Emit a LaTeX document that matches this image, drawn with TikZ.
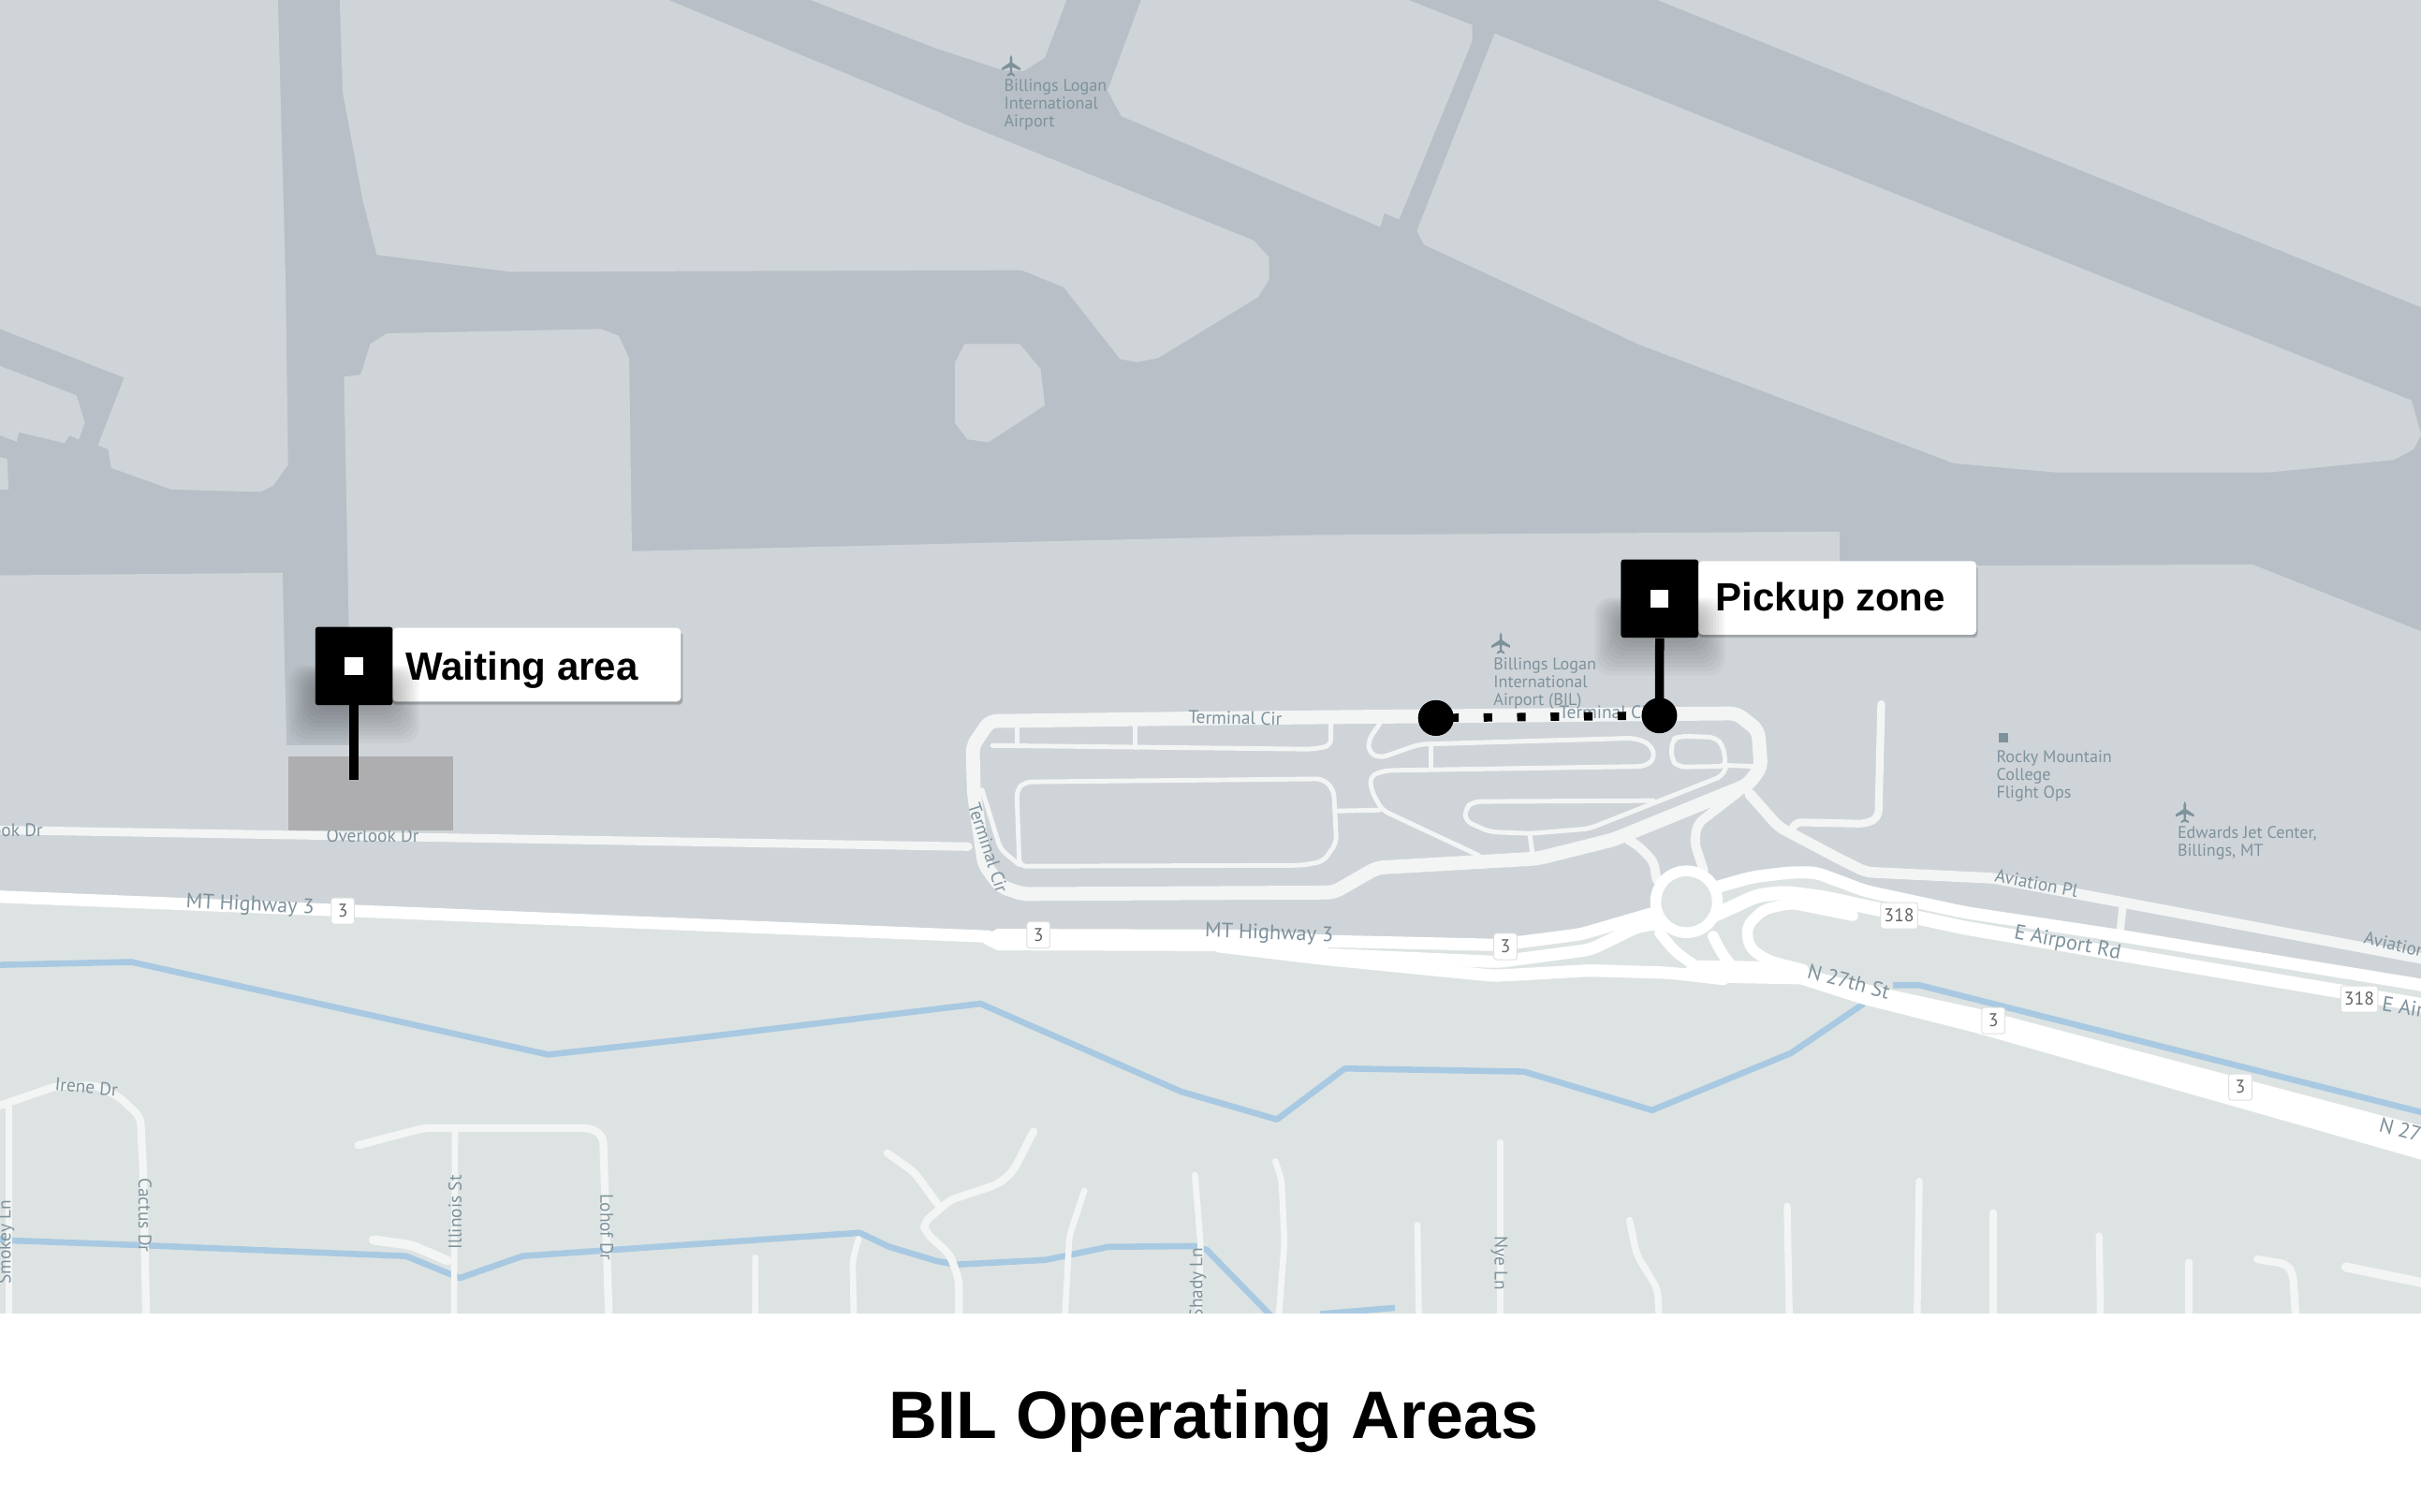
\documentclass[tikz,border=0pt]{standalone}
\usepackage{fontspec}
\setmainfont{Liberation Sans}
\newfontfamily\mapfont{PT Sans}
\usetikzlibrary{positioning}
\definecolor{landc}{HTML}{CFD4D8}
\definecolor{apronc}{HTML}{B8BFC6}
\definecolor{lowc}{HTML}{DDE3E3}
\definecolor{riverc}{HTML}{A8C9E1}
\definecolor{minorc}{HTML}{F3F5F5}
\definecolor{labc}{HTML}{7E929C}
\definecolor{zonec}{HTML}{AEAEB0}
\tikzset{
  lw/.style={line width=#1*0.5669pt},
  land/.style={fill=landc,draw=none},
  river/.style={draw=riverc,lw=4,line join=round},
  minor/.style={draw=minorc,line join=round,line cap=round,rounded corners=2.5pt,lw=#1},
  hwy/.style={draw=white,line join=round,line cap=round,rounded corners=3pt,lw=#1},
  maplab/.style={text=labc,inner sep=0pt,font=\mapfont\fontsize{6.7}{7}\selectfont},
  biglab/.style={maplab,font=\mapfont\fontsize{7.7}{8}\selectfont},
  poilab/.style={maplab,anchor=north west,align=left,font=\mapfont\fontsize{6.25}{6.6}\selectfont},
  shield/.style={fill=white,draw=black!12,lw=.6,rounded corners=1pt,inner sep=0pt,minimum height=0.34cm,text=black!60,font=\mapfont\fontsize{6.8}{7}\selectfont},
  plane/.pic={\fill[labc] (0,-7) -- (.8,-5) -- (.8,-2) -- (6,1.5) -- (6,3) -- (.8,1) -- (.6,4.5) -- (2.5,6) -- (2.5,7) -- (0,6) -- (-2.5,7) -- (-2.5,6) -- (-.6,4.5) -- (-.8,1) -- (-6,3) -- (-6,1.5) -- (-.8,-2) -- (-.8,-5) -- cycle;},
  blackbox/.style={fill=black,rounded corners=1pt,inner sep=0pt,minimum width=1.002cm,minimum height=1.014cm},
  whitesq/.style={fill=white,inner sep=0pt,minimum width=0.234cm,minimum height=0.228cm},
  tag/.style={fill=white,rounded corners=1.5pt,inner sep=0pt,minimum height=0.953cm},
  tagtext/.style={inner sep=0pt,anchor=base west,font=\bfseries\fontsize{14.5}{16}\selectfont},
  stem/.style={draw=black,lw=5.8},
  endpoint/.style={circle,fill=black,inner sep=0pt,minimum size=0.46cm},
  dotted link/.style={draw=black,lw=5.4,dash pattern=on 3.14pt off 9.2pt,dash phase=7.1pt},
}
\begin{document}
\begin{tikzpicture}[x=0.02cm,y=-0.02cm]
\useasboundingbox (0,0) rectangle (1568,978.65);
% base apron
\fill[apronc] (0,0) rectangle (1568,851);
% land polygons
\path[land] (0,0) -- (180,0) -- (185,182) -- (186.6,301) -- (177,314.4) -- (168.6,318.6) -- (111,317) -- (72,303) -- (70,291) -- (63.4,288.4) -- (80.4,244.6) -- (0,213) -- cycle;
\path[land] (0,237) -- (49.5,256) -- (55,273.6) -- (51,284.7) -- (45,282) -- (41.8,287) -- (12.4,280) -- (10.8,286) -- (0,282) -- cycle;
\path[land] (0,296) -- (4.6,297) -- (5.6,317) -- (0,317) -- cycle;
\path[land] (0,372.6) -- (183,371) -- (185.6,482.7) -- (227.4,482.7) -- (222.8,243.9) -- (233.6,242.6) -- (239.8,222.8) -- (250.6,215.9) -- (389,213) -- (400.7,217.4) -- (407.5,232) -- (409.3,357) -- (848.8,346.5) -- (1191.4,344.3) -- (1191.4,366.8) -- (1458.7,365.5) -- (1568,408.8) -- (1568,851) -- (0,851) -- cycle;
\path[land] (220,0) -- (433,0) -- (606.3,71.8) -- (623.9,79.9) -- (812,155.7) -- (822,166.8) -- (822,181) -- (814.7,192.5) -- (749.8,232) -- (736.2,234.6) -- (725.4,232.5) -- (688.9,186) -- (661.8,175) -- (330,176) -- (244,165) -- (235,130) -- (222,60) -- cycle;
\path[land] (525,0) -- (690.8,0) -- (676.7,37.4) -- (663,46) -- (649.6,45.5) -- (606.3,31.3) -- cycle;
\path[land] (739,0) -- (912.2,0) -- (953.6,16.2) -- (953.6,26.3) -- (906.2,142) -- (896.5,138) -- (894,147) -- (726.2,75.2) -- (717.3,58.6) -- cycle;
\path[land] (624.7,222.8) -- (660.4,222.8) -- (674,239) -- (676.7,262.5) -- (640.1,286.5) -- (626.6,284.5) -- (618.5,274) -- (618.5,234.6) -- cycle;
\path[land] (968,21.7) -- (1561.9,259.3) -- (1568,281.5) -- (1563.3,291) -- (1550.5,297.8) -- (1470.2,305.9) -- (1330.3,305.9) -- (1265.2,300) -- (1062,223.3) -- (922.2,158.4) -- (917.6,149.4) -- cycle;
\path[land] (1073.5,0) -- (1568,199) -- (1568,0) -- cycle;
% lower region
\fill[lowc] (0,581) -- (640,606) -- (860,610) -- (975,610) -- (1024,604) -- (1072,590) -- (1090,572) -- (1113,572) -- (1135,567) -- (1160,563) -- (1176,563) -- (1208,576) -- (1290,596) -- (1373,606) -- (1568,638) -- (1568,851) -- (0,851) -- cycle;
% rivers
\draw[river] (-5,625) -- (85,623) -- (355,683) -- (445,673) -- (635,650) -- (765,707) -- (827,725) -- (871,692) -- (987,694) -- (1070,719) -- (1160,682) -- (1207,650);
\draw[river] (1226,638) -- (1243,638) -- (1575,722);
\draw[river] (-5,802) -- (7.7,803.4) -- (92.8,806.5) -- (263,813.5) -- (297.8,827.7) -- (338.4,813.5) -- (556.8,798.4) -- (576,807.5) -- (606,816.5) -- (619,819) -- (677,816) -- (717.8,807.5) -- (773.8,807) -- (781.6,809.5) -- (824,853);
\draw[river] (855,851) -- (903.4,847);
% terminal roads
\draw[minor=9] (641,467) -- (800,465) -- (1124.8,462) -- (1138.7,473) -- (1140.5,497) -- (1131.8,508.4) -- (1044.8,543.8) -- (996,556) -- (891.7,562) -- (863.8,578) -- (662,579) -- (648,574) -- (637.6,560) -- (630.7,513.5) -- (630,483) -- cycle;
\draw[minor=5.5] (-3,537.5) -- (627,548.3);
\draw[minor=3] (642.8,482.8) -- (850,485.2) -- (862,483) -- (862,469);
\draw[minor=3] (658.5,471) -- (658.5,483);
\draw[minor=3] (735,470) -- (735,484);
\draw[minor=3] (663.7,506.4) -- (856.9,504.4) -- (863.8,511.5) -- (865.6,545.8) -- (856.9,558) -- (843,560.4) -- (660.2,561) -- (658.5,511.5) -- cycle;
\draw[minor=3] (865.6,525.2) -- (893.4,524.6);
\draw[minor=3] (636,511.5) -- (648,550) -- (660,560);
\draw[minor=3] (893.4,469) -- (886.4,479) -- (886.4,487) -- (893.4,491) -- (919.5,482) -- (1058.7,478) -- (1069,482) -- (1072,491) -- (1065.7,496.3) -- (897,499) -- (887.5,502.4) -- (888,511.5) -- (895,524.6) -- (957.8,554);
\draw[minor=3] (926.5,483) -- (926.5,497);
\draw[minor=3] (1083,479) -- (1088.3,476.7) -- (1110.9,477.5) -- (1116,483) -- (1117.9,496.3) -- (1086.5,496.7) -- (1082.4,491.2) -- cycle;
\draw[minor=3] (1117.9,495.7) -- (1137,496.3);
\draw[minor=3] (1117.9,496) -- (1116,502.4) -- (1029,536.7) -- (990.8,539.8) -- (964.7,538.7) -- (949,531.7) -- (949,523.6) -- (954.3,519.1) -- (1070.9,518.5);
\draw[minor=3] (990.8,540) -- (992.6,554);
\draw[minor=6] (1050,541) -- (1061,547.7) -- (1071,557.8) -- (1073,570);
\draw[minor=6] (1126,513) -- (1099.4,533.5) -- (1097.4,545.7) -- (1103.5,564);
\draw[minor=7] (1133.5,514.6) -- (1152,535.5) -- (1192.4,556.8) -- (1208.5,564.8) -- (1273,567.9) -- (1291,568.7) -- (1575,622);
\draw[minor=5] (1160,539.6) -- (1162,532.5) -- (1208.5,533.5) -- (1216.6,529.5) -- (1218.4,456);
\draw[minor=5] (1375,586) -- (1373,604);
% neighbourhood streets
\draw[minor=5] (-3,717) -- (36.7,703.3) -- (62,703) -- (77.3,710.4) -- (91,723.6) -- (92.8,760) -- (94.7,855);
\draw[minor=4] (5.8,715.5) -- (5.8,855);
\draw[minor=5] (232,741.7) -- (274.6,730.6) -- (382.8,730.6) -- (390.6,735.7) -- (394.4,855);
\draw[minor=4] (294.7,732.6) -- (294,855);
\draw[minor=6] (241.7,803) -- (266.8,806.5) -- (290,816.5);
\draw[minor=4] (489.2,814.5) -- (489,855);
\draw[minor=4] (556,802.4) -- (552.2,816.5) -- (553,855);
\draw[minor=5] (574.7,746.8) -- (592,759) -- (607.6,780.2);
\draw[minor=5] (669.4,732.7) -- (655.9,759) -- (646.2,767) -- (615.3,777.2) -- (597.9,792.3) -- (599.8,798.4) -- (615.3,812.6) -- (621,828.7) -- (621,855);
\draw[minor=4] (702.3,771) -- (692.6,800.4) -- (689.6,855);
\draw[minor=4] (773.9,761) -- (777.7,806.5) -- (775.8,855);
\draw[minor=4] (826,752) -- (830,764) -- (831.9,804.5) -- (828,855);
\draw[minor=4] (918,793.3) -- (919,855);
\draw[minor=4] (971.8,739.8) -- (971.8,855);
\draw[minor=4.5] (1055.4,790.3) -- (1060,812.6) -- (1073.5,834.8) -- (1074.7,855);
\draw[minor=4.5] (1157.5,781.2) -- (1158.9,855);
\draw[minor=4.5] (1243,765) -- (1241.6,855);
\draw[minor=4.5] (1290.8,785.3) -- (1290.8,855);
\draw[minor=4.5] (1359.6,800.4) -- (1360.4,855);
\draw[minor=4.5] (1417.7,817.6) -- (1417.7,855);
\draw[minor=5] (1462,815.6) -- (1481,818.6) -- (1485,824.7) -- (1487,855);
\draw[minor=6] (1519.3,820.6) -- (1575,832);
% highways
\draw[hwy=8] (-5,580.5) -- (640,606.5);
\draw[hwy=8] (800,606) -- (860,609.5) -- (970,612) -- (1024,605) -- (1072,591);
\draw[hwy=8] (800,612) -- (857,618) -- (970,623) -- (1030,615) -- (1061,600) -- (1075,598);
\draw[hwy=8] (790,613) -- (857,621) -- (968,632) -- (1030,628.5) -- (1081,630) -- (1116,634);
\fill[white] (637,606) -- (646,601.5) -- (800,602) -- (860,605.5) -- (860,622) -- (800,616) -- (646,615.5) -- (637,611) -- cycle;
\fill[white] (1137.8,622.5) -- (1172,628.5) -- (1222.7,640.6) -- (1280,653) -- (1575,731) -- (1575,753) -- (1280,669) -- (1205,650) -- (1166,637.5) -- (1115,636.5) -- (1085,631) -- (1100,622) -- cycle;
\draw[hwy=7] (1075,604.3) -- (1085,616.4) -- (1099.4,626.5) -- (1111.5,632);
\draw[hwy=7] (1109.5,606.3) -- (1115.6,618.4) -- (1125.7,630);
\draw[hwy=8] (1104,577) -- (1113.6,574) -- (1135,568) -- (1160,565) -- (1176,565) -- (1208,577) -- (1273,591) -- (1373,606) -- (1575,639);
\draw[hwy=9] (1112,592) -- (1138,580) -- (1156,578) -- (1180,581) -- (1273,601) -- (1373,618) -- (1575,652);
\draw[hwy=7] (1200,593) -- (1160,585) -- (1142,589) -- (1131,600) -- (1133,614) -- (1145,622) -- (1168,628);
\fill[lowc] (1092.3,584) circle (17);
\draw[white,lw=7] (1092.3,584) circle (20);
% labels on the map
\pic at (654.8,42.5) {plane};
\node[poilab] (airporta) at (650,51) {Billings Logan\\International\\Airport};
\pic at (972,416.5) {plane};
\node[poilab] (airportb) at (967,425.5) {Billings Logan\\International\\Airport (BIL)};
\node[maplab,rotate=-1] (tc1) at (800,465) {Terminal Cir};
\node[maplab] (tc2) at (1040,461.5) {Terminal Cir};
\node[maplab,rotate=-72] (tc3) at (640,549) {Terminal Cir};
\node[biglab,rotate=-3] (mt1) at (162,586.5) {MT Highway 3};
\node[biglab,rotate=-2] (mt2) at (822,605) {MT Highway 3};
\node[maplab] (ov1) at (241.3,541.4) {Overlook Dr};
\node[maplab,anchor=east] (ov2) at (28,537.6) {ook Dr};
\node[biglab,rotate=-15] (n27a) at (1197.4,635.6) {N 27th St};
\node[biglab,rotate=-15,anchor=west] (n27b) at (1541,728) {N 27};
\node[biglab,rotate=-11] (ear1) at (1339,611) {E Airport Rd};
\node[biglab,rotate=-9,anchor=west] (ear2) at (1542.7,650) {E Air};
\node[maplab,rotate=-11] (av1) at (1319,572) {Aviation Pl};
\node[maplab,rotate=-13,anchor=west] (av2) at (1531,607) {Aviation};
\fill[labc] (1294.4,474.5) rectangle (1300.6,481);
\node[poilab] (rocky) at (1292.7,485.5) {Rocky Mountain\\College\\Flight Ops};
\pic at (1415,526) {plane};
\node[poilab] (edw) at (1410,534.5) {Edwards Jet Center,\\Billings, MT};
\node[maplab,rotate=-5] (irene) at (56,704) {Irene Dr};
\node[maplab,rotate=90] (smokey) at (3.9,804.6) {Smokey Ln};
\node[maplab,rotate=-90] (cactus) at (94,787) {Cactus Dr};
\node[maplab,rotate=90] (illinois) at (294.7,785) {Illinois St};
\node[maplab,rotate=-90] (lohof) at (393,795) {Lohof Dr};
\node[maplab,rotate=90] (shady) at (775.8,831) {Shady Ln};
\node[maplab,rotate=-90] (nye) at (971,818) {Nye Ln};
% shields
\node[shield,minimum width=0.3cm] (s1) at (222,590) {3};
\node[shield,minimum width=0.3cm] (s2) at (672.5,605.5) {3};
\node[shield,minimum width=0.3cm] (s3) at (975,613) {3};
\node[shield,minimum width=0.3cm] (s4) at (1291,661) {3};
\node[shield,minimum width=0.3cm] (s5) at (1451,704) {3};
\node[shield,minimum width=0.48cm] (s6) at (1230,593) {318};
\node[shield,minimum width=0.48cm] (s7) at (1528,647) {318};
% waiting zone
\fill[zonec] (186.9,490.1) rectangle (293.3,537.9);
% bottom white band
\fill[white] (0,850.5) rectangle (1568,978.65);
\node[inner sep=0pt,font=\bfseries\fontsize{24.75}{28}\selectfont] (title) at (786,920.5) {BIL Operating Areas};
% waiting call-out
\foreach \i in {1,...,2}{\fill[black,opacity=.12,rounded corners=1.5pt] (254,409) rectangle (441.5+\i*.4,455.5+\i*.6);}
\node[tag,minimum width=3.74cm] (waittag) at (347.5,430.5) {};
\foreach \i in {0,...,9}{\fill[black,opacity=.032,rounded corners=6pt] (204.2-\i*1.9,440-\i) rectangle (254.3+\i*1.9,458+\i*2.6);}
\coordinate (waitend) at (229.2,505);
\draw[stem] (229.2,456) -- (waitend);
\node[blackbox] (waitbox) at (229.25,431.35) {};
\node[whitesq] (waitsq) at (waitbox.center) {};
\node[tagtext] (waittext) at (262.4,440.2) {Waiting area};
% pickup call-out
\foreach \i in {1,...,2}{\fill[black,opacity=.12,rounded corners=1.5pt] (1100,366) rectangle (1280.2+\i*.4,412+\i*.6);}
\node[tag,minimum width=3.6cm] (picktag) at (1190,387.2) {};
\foreach \i in {0,...,9}{\fill[black,opacity=.032,rounded corners=6pt] (1049.7-\i*1.9,396-\i) rectangle (1100.1+\i*1.9,414+\i*2.6);}
\node[endpoint] (walkstart) at (930,465) {};
\node[endpoint] (pickend) at (1074.7,463.4) {};
\draw[dotted link] (walkstart.center) -- (pickend.center);
\node[endpoint] at (walkstart.center) {};
\node[blackbox] (pickbox) at (1074.9,387.65) {};
\draw[stem] (pickbox.south) -- (pickend.center);
\node[whitesq] (picksq) at (pickbox.center) {};
\node[tagtext] (picktext) at (1111,395.8) {Pickup zone};
\end{tikzpicture}
\end{document}
